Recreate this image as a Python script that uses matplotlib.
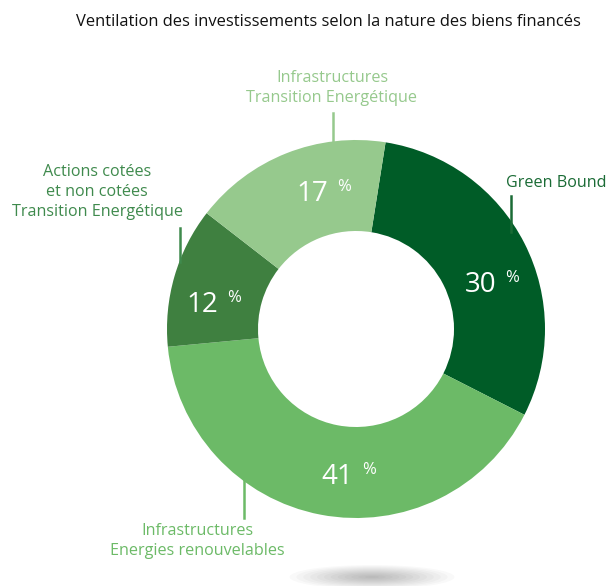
import numpy as np
import matplotlib
matplotlib.use('Agg')
import matplotlib.pyplot as plt
from matplotlib.patches import Ellipse

W, H = 608, 586

# data
categories = ['Green Bound',
              'Infrastructures\nEnergies renouvelables',
              'Actions cotées\net non cotées\nTransition Energétique',
              'Infrastructures\nTransition Energétique']
shares = [30, 41, 12, 17]
colors = ['#005c27', '#6cba67', '#3f8040', '#96c98d']
label_colors = ['#1a6b35', '#6cba67', '#3f8a4d', '#96c98d']

plt.rcParams['font.family'] = ['Open Sans', 'DejaVu Sans']

fig = plt.figure(figsize=(W / 100, H / 100), dpi=100)
ax = fig.add_axes([0, 0, 1, 1])

def py(y):
    # pixel row (from top) -> data y
    return H - y

cx, cy, r_out, r_in = 356, py(329), 189, 98
ax.pie(shares, colors=colors, startangle=81, counterclock=False,
       radius=r_out, center=(cx, cy),
       wedgeprops=dict(width=r_out - r_in, edgecolor='none'))

# percentage labels (number + small raised %)
pct_pos = [(496, 285), (353, 477), (218, 305), (328, 194)]
for v, (x, y) in zip(shares, pct_pos):
    ax.text(x, py(y), str(v), color='white', fontsize=20,
            ha='right', va='center')
    ax.text(x + 9, py(y - 7), '%', color='white', fontsize=12,
            ha='left', va='center')

# category labels + leader lines
lab_pos = [(556, 183, 'center'), (197, 541, 'center'),
           (97, 192, 'center'), (332, 88, 'center')]
lines = [((511, 196), (511, 232)), ((244, 475), (244, 518)),
         ((180, 228), (180, 262)), ((333, 113), (333, 157))]
for name, c, (x, y, ha), ((x0, y0), (x1, y1)) in zip(categories, label_colors, lab_pos, lines):
    ax.text(x, py(y), name, color=c, fontsize=11.6, ha=ha, va='center',
            linespacing=1.3, multialignment='center')
    ax.plot([x0, x1], [py(y0), py(y1)], color=c, lw=1.8)

# title
ax.text(328, py(22), 'Ventilation des investissements selon la nature des biens financés',
        fontsize=11.9, ha='center', va='center', color='#111111')

# soft shadow under the ring
for k in range(12):
    f = 1 - k / 12
    ax.add_patch(Ellipse((372, py(577)), 165 * f, 24 * f,
                         facecolor='#000000', alpha=0.025, edgecolor='none'))

ax.set_xlim(0, W)
ax.set_ylim(0, H)
ax.set_aspect('equal')
ax.axis('off')

fig.savefig('out.png', dpi=100)
